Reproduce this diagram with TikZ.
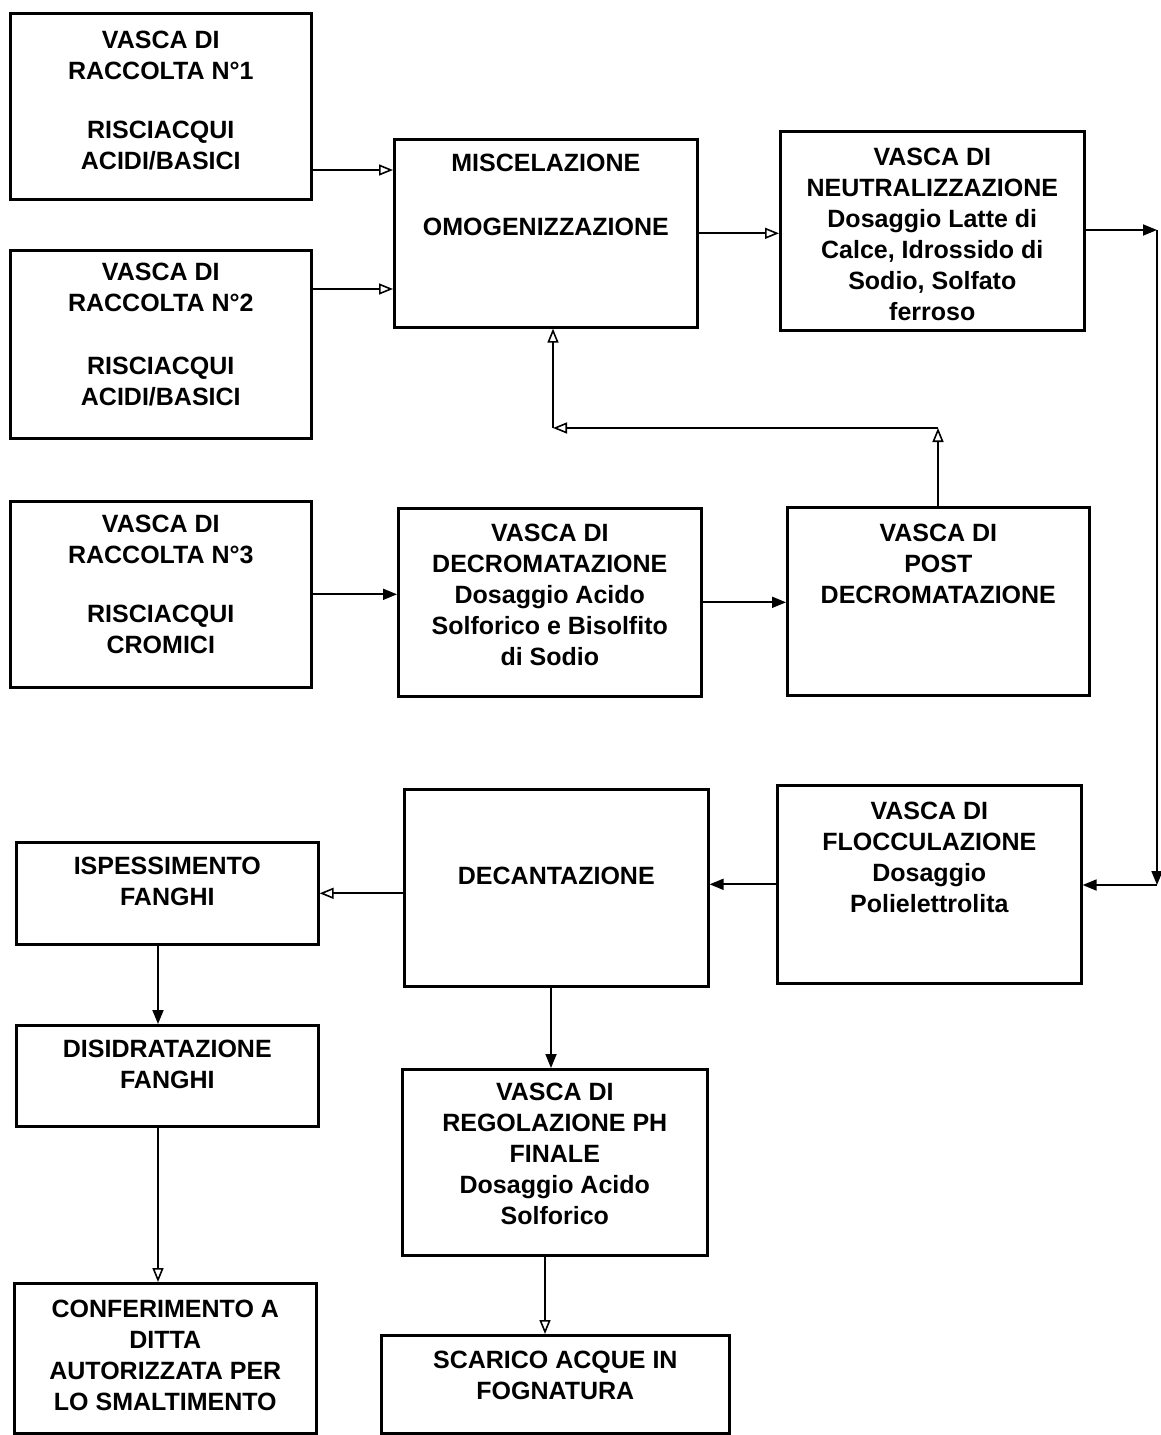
\documentclass[tikz,border=0pt]{standalone}
\usepackage{fontspec}
\setmainfont{Liberation Sans}
\usetikzlibrary{arrows.meta}
\begin{document}
\begin{tikzpicture}[x=1pt,y=-1pt,
  box/.style={draw,line width=2.6pt,inner sep=0pt,anchor=north west},
  txt/.style={font=\bfseries\fontsize{25}{31}\selectfont,align=center,inner sep=0pt,anchor=north},
  con/.style={line width=1.8pt},
  oa/.style={con,-{Triangle[open,length=14pt,width=11pt,line width=1.6pt]}},
  fa/.style={con,-{Triangle[length=14pt,width=11pt]}}]
\useasboundingbox (0,0) rectangle (1160,1435);
% boxes
\node[box,minimum width=301pt,minimum height=186pt] (b1) at (9,12) {};
\node[box,minimum width=301pt,minimum height=188pt] (b2) at (9,249) {};
\node[box,minimum width=303pt,minimum height=188pt] (misc) at (393,138) {};
\node[box,minimum width=304pt,minimum height=199pt] (neutr) at (779,130) {};
\node[box,minimum width=301pt,minimum height=186pt] (b3) at (9,500) {};
\node[box,minimum width=303pt,minimum height=188pt] (decrom) at (397,507) {};
\node[box,minimum width=302pt,minimum height=188pt] (post) at (786,506) {};
\node[box,minimum width=304pt,minimum height=198pt] (flocc) at (776,784) {};
\node[box,minimum width=304pt,minimum height=197pt] (decant) at (403,788) {};
\node[box,minimum width=302pt,minimum height=102pt] (ispess) at (15,841) {};
\node[box,minimum width=302pt,minimum height=101pt] (disidr) at (15,1024) {};
\node[box,minimum width=305pt,minimum height=186pt] (regol) at (401,1068) {};
\node[box,minimum width=302pt,minimum height=150pt] (confer) at (13,1282) {};
\node[box,minimum width=348pt,minimum height=98pt] (scarico) at (380,1334) {};
% texts
\node[txt] (b1t) at ([yshift=-19pt]b1.north) {VASCA DI\\RACCOLTA N°1\\[28pt]RISCIACQUI\\ACIDI/BASICI};
\node[txt] (b2t) at ([yshift=-14pt]b2.north) {VASCA DI\\RACCOLTA N°2\\[32pt]RISCIACQUI\\ACIDI/BASICI};
\node[txt] (misct) at ([yshift=-16pt]misc.north) {MISCELAZIONE\\[33pt]OMOGENIZZAZIONE};
\node[txt] (neutrt) at ([yshift=-18pt]neutr.north) {VASCA DI\\NEUTRALIZZAZIONE\\Dosaggio Latte di\\Calce, Idrossido di\\Sodio, Solfato\\ferroso};
\node[txt] (b3t) at ([yshift=-15pt]b3.north) {VASCA DI\\RACCOLTA N°3\\[28pt]RISCIACQUI\\CROMICI};
\node[txt] (decromt) at ([yshift=-17pt]decrom.north) {VASCA DI\\DECROMATAZIONE\\Dosaggio Acido\\Solforico e Bisolfito\\di Sodio};
\node[txt] (postt) at ([yshift=-18pt]post.north) {VASCA DI\\POST\\DECROMATAZIONE};
\node[txt] (flocct) at ([yshift=-18pt]flocc.north) {VASCA DI\\FLOCCULAZIONE\\Dosaggio\\Polielettrolita};
\node[txt] (decantt) at ([yshift=-79pt]decant.north) {DECANTAZIONE};
\node[txt] (ispesst) at ([yshift=-16pt]ispess.north) {ISPESSIMENTO\\FANGHI};
\node[txt] (disidrt) at ([yshift=-16pt]disidr.north) {DISIDRATAZIONE\\FANGHI};
\node[txt] (regolt) at ([yshift=-15pt]regol.north) {VASCA DI\\REGOLAZIONE PH\\FINALE\\Dosaggio Acido\\Solforico};
\node[txt] (confert) at ([yshift=-18pt]confer.north) {CONFERIMENTO A\\DITTA\\AUTORIZZATA PER\\LO SMALTIMENTO};
\node[txt] (scaricot) at ([yshift=-17pt]scarico.north) {SCARICO ACQUE IN\\FOGNATURA};
% helper coordinates
\coordinate (y1) at (0,170);
\coordinate (y2) at (0,289);
\coordinate (r1) at (1157,230);
\coordinate (r2) at (1157,885);
\coordinate (p1) at (938,428);
\coordinate (p2) at (553,428);
\coordinate (cl) at (158,0);
\coordinate (c2) at (551,0);
\coordinate (c3) at (545,0);
% connectors
\draw[oa] (b1.east |- y1) -- (misc.west |- y1);
\draw[oa] (b2.east |- y2) -- (misc.west |- y2);
\draw[oa] (misc.east) -- (neutr.west |- misc.east);
\draw[fa] (neutr.east |- r1) -- (r1);
\draw[fa] (r1) -- (r2);
\draw[fa] (r2) -- (flocc.east |- r2);
\draw[oa] (post.north -| p1) -- (p1);
\draw[oa] (p1) -- (p2);
\draw[oa] (p2) -- (p2 |- misc.south);
\draw[fa] (b3.east) -- (decrom.west |- b3.east);
\draw[fa] (decrom.east) -- (post.west |- decrom.east);
\draw[fa] (flocc.west) -- (decant.east |- flocc.west);
\draw[oa] (decant.west |- ispess.east) -- (ispess.east);
\draw[fa] (ispess.south -| cl) -- (disidr.north -| cl);
\draw[oa] (disidr.south -| cl) -- (confer.north -| cl);
\draw[fa] (decant.south -| c2) -- (regol.north -| c2);
\draw[oa] (regol.south -| c3) -- (scarico.north -| c3);
\end{tikzpicture}
\end{document}
